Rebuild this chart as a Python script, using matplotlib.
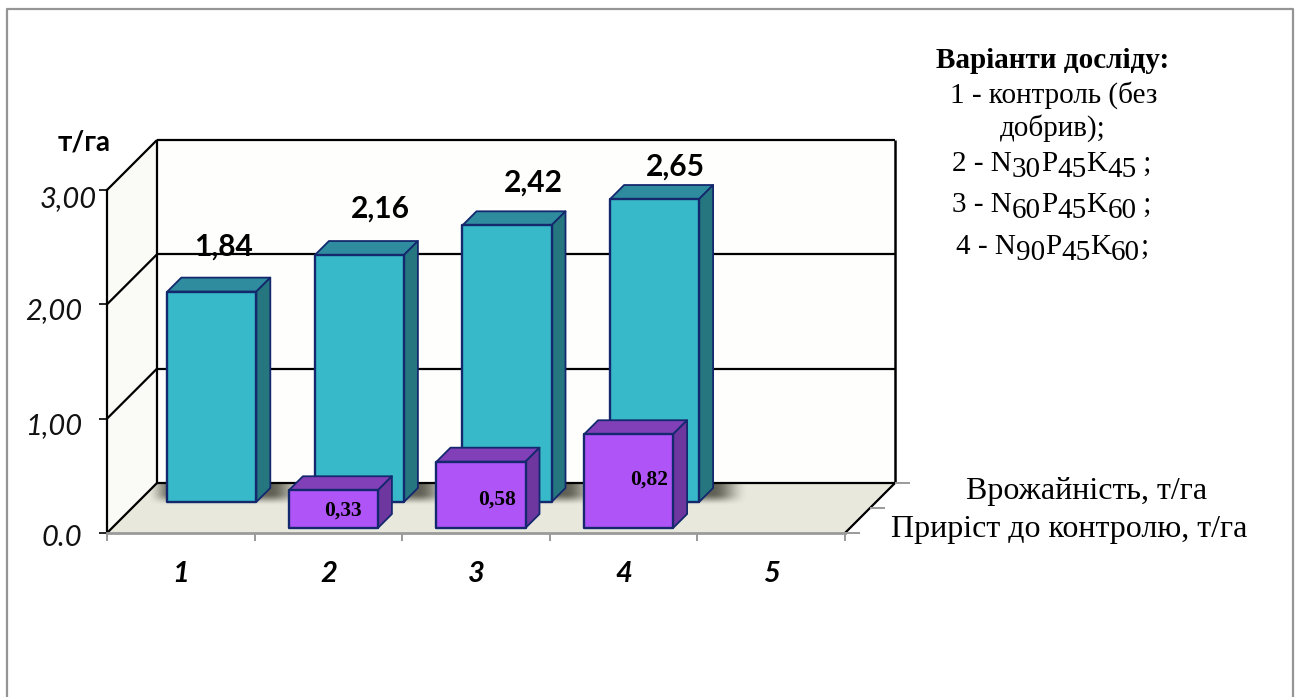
import numpy as np
import matplotlib
matplotlib.use('Agg')
import matplotlib.pyplot as plt
from matplotlib.patches import Polygon
from matplotlib.lines import Line2D

# yield and gain per trial variant, t/ha (variant 5 is an empty slot)
categories = ['1', '2', '3', '4', '5']
yield_values = [1.84, 2.16, 2.42, 2.65, None]
gain_values = [None, 0.33, 0.58, 0.82, None]
yield_labels = ['1,84', '2,16', '2,42', '2,65', None]
gain_labels = [None, '0,33', '0,58', '0,82', None]
value_ticks = [0, 1, 2, 3]
value_tick_labels = ['0.0', '1,00', '2,00', '3,00']

W, H = 1297, 697
SANS = 'Lato'
SERIF = 'Liberation Serif'

# one unit of depth in category and value units (45 degree oblique box)
DX = 50 / 147.6
DY = 50 / 114.33
BAR_W = 0.603

fig = plt.figure(figsize=(W / 100, H / 100), dpi=100, facecolor='white')
ax = fig.add_axes([107 / W, (H - 533) / H, 738 / W, 343 / H])
ax.patch.set_visible(False)
for side in ['top', 'right']:
    ax.spines[side].set_visible(False)
ax.spines['left'].set_color('black')
ax.spines['left'].set_linewidth(1.6)
ax.spines['bottom'].set_color('#9a9a9a')
ax.spines['bottom'].set_linewidth(2)
ax.spines['left'].set_zorder(6)
ax.spines['bottom'].set_zorder(6)


def project(x, v, d):
    return (x + d * DX, v + d * DY)


def poly(points, face, edge='none', lw=0, z=1):
    p = Polygon([project(*q) for q in points], closed=True, facecolor=face,
                edgecolor=edge, linewidth=lw, zorder=z,
                clip_on=False, joinstyle='round')
    ax.add_patch(p)
    return p


def seg(a, b, color='black', lw=1.6, z=2):
    xa, ya = project(*a)
    xb, yb = project(*b)
    ax.plot([xa, xb], [ya, yb], color=color, lw=lw, zorder=z, clip_on=False,
            solid_capstyle='butt')


def box(x, v, d0, d1, front, top, right, z):
    edge = '#14286e'
    x0, x1 = x - BAR_W / 2, x + BAR_W / 2
    poly([(x0, v, d0), (x1, v, d0), (x1, v, d1), (x0, v, d1)], top, edge, 1.3, z)
    poly([(x1, 0, d0), (x1, 0, d1), (x1, v, d1), (x1, v, d0)], right, edge, 1.3, z)
    poly([(x0, 0, d0), (x1, 0, d0), (x1, v, d0), (x0, v, d0)], front, edge, 1.7, z)


def ramp(t):
    t = np.clip(t, 0, 1)
    return t * t * (3 - 2 * t)


# walls and floor
poly([(0, 0, 1), (5, 0, 1), (5, 3, 1), (0, 3, 1)], '#fefefd', z=1)
poly([(0, 0, 0), (0, 0, 1), (0, 3, 1), (0, 3, 0)], '#fafaf7', z=1)
floor = poly([(0, 0, 0), (5, 0, 0), (5, 0, 1), (0, 0, 1)], '#e8e8dc', z=1)

# blurred shadow of the tall bars on the floor
gx = np.linspace(0, 5 + DX, 800)
gy = np.linspace(0, DY, 100)
X, Y = np.meshgrid(gx, gy)
shade = np.zeros_like(X)
for i, val in enumerate(yield_values):
    if val is None:
        continue
    x0, x1 = i + 0.5 - BAR_W / 2, i + 0.5 + BAR_W / 2
    fx = ramp((X - (x0 + 0.62 * DX - 0.14)) / 0.18) * ramp((x1 + 0.9 * DX + 0.24 - X) / 0.24)
    fy = ramp((Y - 0.54 * DY) / (0.24 * DY))
    shade = np.maximum(shade, fx * fy)
rgba = np.zeros(X.shape + (4,))
rgba[..., :3] = matplotlib.colors.to_rgb('#3a3a30')
rgba[..., 3] = shade * 0.78
img = ax.imshow(rgba, extent=(gx[0], gx[-1], gy[0], gy[-1]), origin='lower',
                aspect='auto', zorder=1.5, interpolation='bilinear')
img.set_clip_path(floor)

ax.set_xlim(0, 5)
ax.set_ylim(0, 3)

for v in value_ticks[1:]:
    seg((0, v, 1), (5, v, 1))
    seg((0, v, 0), (0, v, 1))
seg((0, 0, 1), (5, 0, 1))
seg((0, 0, 0), (0, 0, 1))
seg((5, 0, 0), (5, 0, 1))
seg((0, 0, 1), (0, 3, 1))
seg((5, 0, 1), (5, 3, 1), lw=1.8)
for d in [0, 0.5, 1]:
    seg((5, 0, d), (5.1, 0, d), color='#9a9a9a', lw=1.4)

for i, val in enumerate(yield_values):
    if val is not None:
        box(i + 0.5, val, 0.62, 0.90, '#38b9c9', '#2e8c9e', '#25767f', 3)
for i, val in enumerate(gain_values):
    if val is not None:
        box(i + 0.5, val, 0.10, 0.38, '#af55f7', '#8240b8', '#6e37a0', 4)

# axes ticks and labels
ax.set_yticks(value_ticks)
ax.set_yticklabels([])
ax.tick_params(axis='y', length=6, width=1.2, color='black')
ax.set_xticks(range(len(categories) + 1))
ax.set_xticklabels([])
ax.tick_params(axis='x', which='major', length=6, width=1.4, color='#9a9a9a')
ax.set_xticks([i + 0.5 for i in range(len(categories))], minor=True)
ax.set_xticklabels(categories, minor=True, fontfamily=SANS, fontsize=21,
                   fontweight='bold', fontstyle='italic')
ax.tick_params(axis='x', which='minor', length=0, pad=20.5)

tick_shift = {'3,00': (15, -9), '2,00': (0, -7), '1,00': (0, -7), '0.0': (0, -5)}
for v, lab in zip(value_ticks, value_tick_labels):
    sx, sy = tick_shift[lab]
    ax.annotate(lab, xy=(0, v), xytext=(-25 + sx, sy),
                textcoords='offset pixels', ha='right', va='center',
                fontfamily=SANS, fontstyle='italic', fontsize=21, color='#111111')

# value labels, nudged to sit where the chart's labels do
yield_nudge = [(12, 45), (21, 46), (26, 43), (21, 32), None]
for i, (val, lab) in enumerate(zip(yield_values, yield_labels)):
    if val is None:
        continue
    ax.annotate(lab, xy=project(i + 0.5, val, 0.62), xytext=yield_nudge[i],
                textcoords='offset pixels', ha='center', va='center',
                fontfamily=SANS, fontweight='bold', fontsize=21.5, zorder=7,
                annotation_clip=False)

gain_nudge = [None, (10, -20), (16, -38), (20, -45), None]
for i, (val, lab) in enumerate(zip(gain_values, gain_labels)):
    if val is None:
        continue
    ax.annotate(lab, xy=project(i + 0.5, val, 0.10), xytext=gain_nudge[i],
                textcoords='offset pixels', ha='center', va='center',
                fontfamily=SERIF, fontweight='bold', fontsize=15.5, zorder=7,
                annotation_clip=False)


def px_text(x, y, s, **kw):
    return fig.text(x / W, 1 - y / H, s, ha=kw.pop('ha', 'center'), va=kw.pop('va', 'center'), **kw)


px_text(84, 142, 'т/га', fontfamily=SANS, fontweight='bold', fontsize=20)

# notes on the right
px_text(1053, 61, 'Варіанти досліду:', fontfamily=SERIF, fontweight='bold', fontsize=21)
px_text(1054, 95, '1 - контроль (без', fontfamily=SERIF, fontsize=21)
px_text(1053, 128, 'добрив);', fontfamily=SERIF, fontsize=21)

formula_lines = [
    (171, [('2 - N', 0), ('30', 1), ('P', 0), ('45', 1), ('K', 0), ('45', 1), (' ;', 0)]),
    (212, [('3 - N', 0), ('60', 1), ('P', 0), ('45', 1), ('K', 0), ('60', 1), (' ;', 0)]),
    (254, [('4 - N', 0), ('90', 1), ('P', 0), ('45', 1), ('K', 0), ('60', 1), (';', 0)]),
]
renderer = fig.canvas.get_renderer()
for y, runs in formula_lines:
    pieces = [px_text(0, y + low * 6, s, ha='left', va='baseline', fontfamily=SERIF, fontsize=21)
              for s, low in runs]
    # spaces at the ends are dropped from the extent, so measure with a guard glyph
    widths = []
    for t, (s, low) in zip(pieces, runs):
        t.set_text('|' + s + '|')
        w_guard = t.get_window_extent(renderer).width
        t.set_text('||')
        widths.append(w_guard - t.get_window_extent(renderer).width)
        t.set_text(s)
    cur = 1052 - sum(widths) / 2
    for t, w in zip(pieces, widths):
        t.set_x(cur / W)
        cur += w

# series captions beside the floor
px_text(1087, 491, 'Врожайність, т/га', fontfamily=SERIF, fontsize=23)
px_text(1069, 529, 'Приріст до контролю, т/га', fontfamily=SERIF, fontsize=23)

# outer frame, open at the bottom
frame_x = [7 / W, 7 / W, 1293 / W, 1293 / W]
frame_y = [0, 1 - 9 / H, 1 - 9 / H, 0]
fig.add_artist(Line2D(frame_x, frame_y, color='#959595', lw=1.6, transform=fig.transFigure))

fig.savefig('out.png', dpi=100)
